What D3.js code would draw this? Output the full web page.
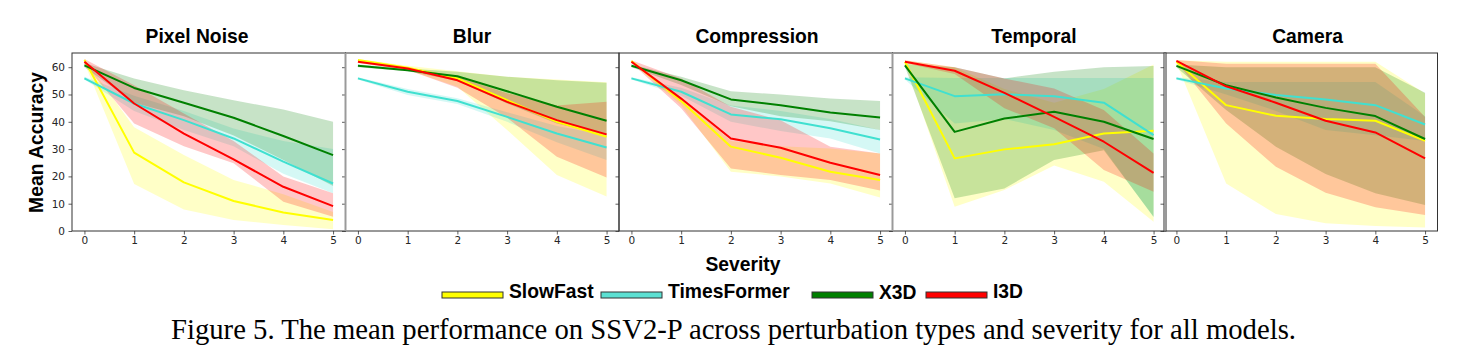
<!DOCTYPE html>
<html>
<head>
<meta charset="utf-8">
<script src="https://cdn.jsdelivr.net/npm/d3@7"></script>
<style>
  html, body { margin: 0; padding: 0; background: #fff; }
  svg { display: block; }
</style>
</head>
<body>
<svg id="chart" width="1477" height="358"></svg>
<script>
// ---------------- DATA ----------------
const severity = [0, 1, 2, 3, 4, 5];
const perturbations = ["Pixel Noise", "Blur", "Compression", "Temporal", "Camera"];
const models = ["SlowFast", "TimesFormer", "X3D", "I3D"];
const modelColors = ["#ffff00", "#40e0d0", "#008000", "#ff0000"];
const yTicks = [0, 10, 20, 30, 40, 50, 60];

// one row per perturbation (Pixel Noise, Blur, Compression, Temporal, Camera)
const slowFastMean = [
  [62.6, 28.7, 17.8, 11.0, 6.8, 4.0],
  [62.6, 59.8, 55.9, 47.9, 40.0, 34.5],
  [62.3, 47.6, 30.9, 26.8, 21.7, 18.7],
  [62.0, 26.6, 29.9, 31.8, 35.7, 36.7],
  [62.0, 46.1, 42.2, 41.0, 40.4, 33.0]
];
const slowFastLow = [
  [61.5, 17.2, 7.9, 4.0, 2.2, 0.6],
  [62.0, 59.0, 52.8, 37.0, 20.5, 12.6],
  [62.0, 46.0, 21.7, 20.0, 17.4, 12.3],
  [61.5, 8.9, 15.0, 24.0, 18.0, 3.4],
  [61.5, 17.4, 6.2, 2.8, 1.8, 1.3]
];
const slowFastHigh = [
  [63.0, 38.0, 27.8, 18.7, 13.5, 7.0],
  [63.0, 60.5, 58.5, 56.5, 55.5, 54.5],
  [62.6, 49.0, 33.0, 31.0, 30.2, 28.4],
  [62.5, 60.0, 52.0, 47.0, 52.0, 61.0],
  [62.5, 62.0, 62.0, 62.0, 62.0, 50.4]
];

const timesFormerMean = [
  [55.9, 46.7, 40.6, 33.9, 25.4, 17.4],
  [55.9, 51.0, 47.6, 41.8, 35.7, 30.6],
  [55.9, 51.0, 42.7, 40.9, 37.6, 33.5],
  [55.9, 49.4, 50.1, 49.4, 47.0, 35.1],
  [55.9, 52.2, 49.8, 48.2, 46.1, 39.0]
];
const timesFormerLow = [
  [55.5, 44.0, 37.0, 31.0, 21.0, 13.8],
  [55.5, 49.8, 46.5, 40.0, 32.5, 26.0],
  [55.5, 49.5, 40.0, 36.6, 33.9, 28.4],
  [55.5, 39.4, 41.0, 37.0, 30.0, 5.0],
  [55.5, 50.0, 44.0, 37.0, 35.1, 33.0]
];
const timesFormerHigh = [
  [56.5, 49.5, 44.0, 37.5, 33.0, 30.0],
  [56.3, 52.0, 48.6, 43.5, 38.5, 35.1],
  [56.3, 52.5, 46.0, 44.0, 41.0, 37.0],
  [56.3, 56.0, 56.0, 56.0, 56.0, 56.0],
  [56.3, 54.6, 54.6, 54.6, 54.6, 42.0]
];

const x3dMean = [
  [60.7, 52.4, 47.0, 41.5, 34.8, 27.8],
  [60.5, 58.9, 56.7, 51.2, 45.5, 40.4],
  [60.5, 55.2, 48.2, 46.1, 43.4, 41.6],
  [60.7, 36.3, 41.2, 43.7, 40.0, 33.7],
  [60.5, 53.4, 48.9, 45.1, 42.1, 33.7]
];
const x3dLow = [
  [60.0, 47.0, 42.0, 35.0, 26.0, 16.5],
  [60.0, 58.5, 55.0, 46.7, 39.4, 35.1],
  [60.0, 53.5, 45.7, 42.0, 40.2, 37.0],
  [60.2, 12.0, 15.6, 26.0, 29.6, 5.2],
  [60.0, 44.3, 30.9, 20.9, 13.8, 9.5]
];
const x3dHigh = [
  [61.5, 55.9, 51.6, 47.9, 44.5, 40.0],
  [61.0, 59.5, 58.3, 56.5, 55.2, 54.3],
  [61.0, 56.5, 51.2, 50.0, 48.5, 47.6],
  [61.2, 60.0, 55.9, 58.3, 60.0, 60.4],
  [61.0, 60.0, 60.0, 60.0, 60.0, 50.6]
];

const i3dMean = [
  [62.0, 46.7, 35.7, 26.2, 16.2, 9.1],
  [62.0, 59.5, 55.2, 47.3, 40.6, 35.4],
  [62.0, 48.5, 33.9, 30.5, 25.0, 20.5],
  [62.0, 58.7, 50.6, 41.8, 32.7, 21.3],
  [62.3, 53.0, 47.0, 40.4, 36.1, 26.6]
];
const i3dLow = [
  [61.0, 39.4, 31.0, 24.8, 10.7, 5.2],
  [61.5, 59.0, 52.5, 41.5, 27.2, 19.6],
  [61.5, 45.0, 22.9, 20.5, 18.7, 14.8],
  [61.5, 57.5, 45.0, 37.6, 22.3, 14.4],
  [62.0, 39.4, 23.5, 14.0, 8.7, 5.9]
];
const i3dHigh = [
  [63.0, 53.4, 43.0, 33.0, 20.0, 13.8],
  [62.5, 60.0, 56.5, 50.5, 46.0, 47.3],
  [62.5, 55.9, 45.5, 40.6, 30.9, 28.4],
  [62.5, 60.0, 55.9, 52.2, 44.3, 28.4],
  [62.6, 61.3, 61.3, 61.3, 61.3, 41.8]
];

const captionText = "Figure 5. The mean performance on SSV2-P across perturbation types and severity for all models.";
const yLabelText = "Mean Accuracy";
const xLabelText = "Severity";

// ---------------- LAYOUT ----------------
const meanSets = [slowFastMean, timesFormerMean, x3dMean, i3dMean];
const lowSets = [slowFastLow, timesFormerLow, x3dLow, i3dLow];
const highSets = [slowFastHigh, timesFormerHigh, x3dHigh, i3dHigh];

const svg = d3.select("#chart");
svg.append("rect").attr("width", 1477).attr("height", 358).attr("fill", "#fff");

const panelLefts = [72, 345.5, 619, 892.5, 1164];
const panelW = 273.5;
const plotTop = 53, plotBottom = 231;
const titleCenters = [197, 472, 757, 1034, 1307.5];
const sansBold = "'Liberation Sans', Arial, sans-serif";
const tickFont = "'DejaVu Sans', sans-serif";

const y = d3.scaleLinear().domain([0, 65.2]).range([plotBottom, plotTop]);

perturbations.forEach((pName, p) => {
  const left = panelLefts[p];
  const x = d3.scaleLinear().domain([-0.25, 5.25]).range([left, left + panelW]);
  const g = svg.append("g");

  const clipId = "clip" + p;
  svg.append("clipPath").attr("id", clipId)
    .append("rect").attr("x", left).attr("y", plotTop).attr("width", panelW).attr("height", plotBottom - plotTop);
  const plot = g.append("g").attr("clip-path", `url(#${clipId})`);

  const area = d3.area()
    .x((d, i) => x(severity[i]))
    .y0(d => y(d[0]))
    .y1(d => y(d[1]));
  const line = d3.line()
    .x((d, i) => x(severity[i]))
    .y(d => y(d));

  models.forEach((m, k) => {
    const band = severity.map((s, i) => [lowSets[k][p][i], highSets[k][p][i]]);
    plot.append("path")
      .attr("d", area(band))
      .attr("fill", modelColors[k])
      .attr("fill-opacity", 0.22)
      .attr("stroke", "none");
  });
  models.forEach((m, k) => {
    plot.append("path")
      .attr("d", line(meanSets[k][p]))
      .attr("fill", "none")
      .attr("stroke", modelColors[k])
      .attr("stroke-width", 2)
      .attr("stroke-linejoin", "round");
  });

  // axes
  const xAxis = d3.axisBottom(x).tickValues(severity).tickSize(3.5).tickPadding(2.5).tickFormat(d3.format("d"));
  const gx = g.append("g").attr("transform", `translate(0,${plotBottom})`).call(xAxis);
  gx.select(".domain").remove();
  gx.selectAll("line").attr("stroke", "#333").attr("stroke-width", 0.8);
  gx.selectAll("text").attr("font-family", tickFont).attr("font-size", 10.5).attr("fill", "#262626");

  const yAxis = d3.axisLeft(y).tickValues(yTicks).tickSize(3.5).tickPadding(3.5)
    .tickFormat(p === 0 ? d3.format("d") : () => "");
  const gy = g.append("g").attr("transform", `translate(${left},0)`).call(yAxis);
  gy.select(".domain").remove();
  gy.selectAll("line").attr("stroke", "#333").attr("stroke-width", 0.8);
  gy.selectAll("text").attr("font-family", tickFont).attr("font-size", 10.5).attr("fill", "#262626");

  // frame
  g.append("rect")
    .attr("x", left).attr("y", plotTop).attr("width", panelW).attr("height", plotBottom - plotTop)
    .attr("fill", "none").attr("stroke", "#333").attr("stroke-width", 1);

  // title
  svg.append("text")
    .attr("x", titleCenters[p]).attr("y", 43.3)
    .attr("text-anchor", "middle")
    .attr("font-family", sansBold).attr("font-weight", "bold").attr("font-size", 19.3)
    .attr("fill", "#000")
    .text(pName);
});

// gray separators seen between some panels
[345.5, 892.5].forEach(xs => {
  svg.append("line").attr("x1", xs).attr("x2", xs).attr("y1", plotTop).attr("y2", plotBottom)
    .attr("stroke", "#9a9a9a").attr("stroke-width", 2);
});
svg.append("line").attr("x1", 1165).attr("x2", 1165).attr("y1", plotTop).attr("y2", plotBottom)
  .attr("stroke", "#9a9a9a").attr("stroke-width", 1.2);

// y label
svg.append("text")
  .attr("transform", "translate(43,142.5) rotate(-90)")
  .attr("text-anchor", "middle")
  .attr("font-family", sansBold).attr("font-weight", "bold").attr("font-size", 19.3)
  .attr("fill", "#000")
  .text(yLabelText);

// x label
svg.append("text")
  .attr("x", 743).attr("y", 271)
  .attr("text-anchor", "middle")
  .attr("font-family", sansBold).attr("font-weight", "bold").attr("font-size", 19.3)
  .attr("fill", "#000")
  .text(xLabelText);

// legend
const legendSwatchX = [442, 601, 812, 926];
const legendTextDy = [0, 0, 1.5, 0];
models.forEach((m, k) => {
  svg.append("rect")
    .attr("x", legendSwatchX[k]).attr("y", 292)
    .attr("width", 61).attr("height", 6)
    .attr("fill", k === 1 ? "#5ce0d2" : modelColors[k])
    .attr("stroke", "#333").attr("stroke-width", 1);
  svg.append("text")
    .attr("x", legendSwatchX[k] + 67).attr("y", 297.7 + legendTextDy[k])
    .attr("font-family", sansBold).attr("font-weight", "bold").attr("font-size", 19.3)
    .attr("fill", "#000")
    .text(m);
});

// caption
svg.append("text")
  .attr("x", 171).attr("y", 339.3)
  .attr("font-family", "'Liberation Serif', 'Times New Roman', serif")
  .attr("font-size", 29)
  .attr("textLength", 1125).attr("lengthAdjust", "spacingAndGlyphs")
  .attr("fill", "#000")
  .text(captionText);
</script>
</body>
</html>
